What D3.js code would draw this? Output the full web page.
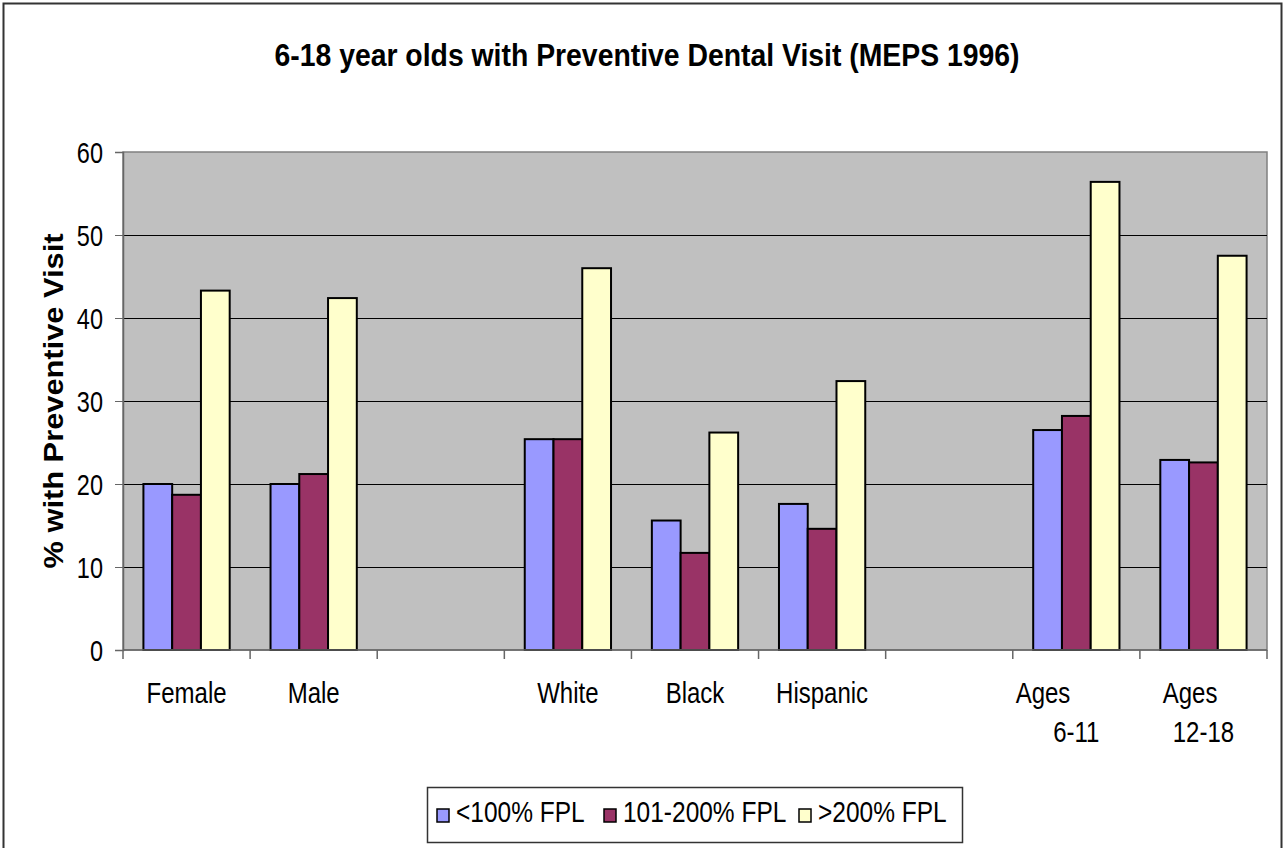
<!DOCTYPE html>
<html>
<head>
<meta charset="utf-8">
<script src="https://cdnjs.cloudflare.com/ajax/libs/d3/7.8.5/d3.min.js"></script>
<style>
  body { margin: 0; background: #fff; }
  svg { display: block; font-family: "Liberation Sans", Arial, sans-serif; }
</style>
</head>
<body>
<div id="chart"></div>
<script>
// categories (empty strings are the spacer slots in the original)
var categories = ["Female", "Male", "", "White", "Black", "Hispanic", "", "Ages\u00a0\u00a0\u00a0\u00a0\u00a0\u00a0\u00a0\u00a0\u00a0\u00a0 6-11", "Ages\u00a0\u00a0\u00a0\u00a0 12-18"];
var seriesNames = ["<100% FPL", "101-200% FPL", ">200% FPL"];
var below100 = [20.0, 20.0, null, 25.4, 15.6, 17.6, null, 26.5, 22.9];
var fpl101to200 = [18.7, 21.2, null, 25.4, 11.7, 14.6, null, 28.2, 22.6];
var above200 = [43.3, 42.4, null, 46.0, 26.2, 32.4, null, 56.4, 47.5];
var yTicks = [0, 10, 20, 30, 40, 50, 60];
var colors = ["#9999FF", "#993366", "#FFFFCC"];

var W = 1284, H = 848;
var margin = {left: 123, right: 17, top: 152, bottom: 198};
var series = [below100, fpl101to200, above200];
var stretch = 1.22; // the original text is drawn a bit taller than wide

var svg = d3.select("#chart").append("svg")
    .attr("width", W)
    .attr("height", H);

// chart area border
svg.append("rect")
    .attr("x", 3.5).attr("y", 3.5)
    .attr("width", W - 6).attr("height", H + 10)
    .attr("fill", "#fff")
    .attr("stroke", "#333")
    .attr("stroke-width", 2);

var x0 = d3.scaleBand()
    .domain(d3.range(categories.length))
    .range([margin.left, W - margin.right]);

var x1 = d3.scaleBand()
    .domain(d3.range(series.length))
    .range([0, x0.bandwidth()])
    .paddingOuter(0.71);

var y = d3.scaleLinear()
    .domain([0, 60])
    .range([H - margin.bottom, margin.top]);

// plot area
svg.append("rect")
    .attr("x", margin.left).attr("y", margin.top)
    .attr("width", W - margin.left - margin.right)
    .attr("height", H - margin.top - margin.bottom)
    .attr("fill", "#C0C0C0")
    .attr("stroke", "#808080")
    .attr("stroke-width", 1.5);

// gridlines
svg.append("g")
  .selectAll("line")
  .data(yTicks.slice(1, -1))
  .enter().append("line")
    .attr("x1", margin.left).attr("x2", W - margin.right)
    .attr("y1", function(d) { return Math.round(y(d)) + 0.5; })
    .attr("y2", function(d) { return Math.round(y(d)) + 0.5; })
    .attr("stroke", "#000")
    .attr("stroke-width", 1);

// bars
var groups = svg.append("g").selectAll("g")
    .data(categories)
    .enter().append("g")
    .attr("transform", function(d, i) { return "translate(" + x0(i) + ",0)"; });

groups.selectAll("rect")
    .data(function(d, i) {
      return series.map(function(s, k) { return {k: k, v: s[i]}; })
                   .filter(function(e) { return e.v != null; });
    })
    .enter().append("rect")
    .attr("x", function(d) { return x1(d.k); })
    .attr("y", function(d) { return y(d.v); })
    .attr("width", x1.bandwidth())
    .attr("height", function(d) { return y(0) - y(d.v); })
    .attr("fill", function(d) { return colors[d.k]; })
    .attr("stroke", "#000")
    .attr("stroke-width", 2);

// y axis
var yAxis = svg.append("g")
    .attr("transform", "translate(" + margin.left + ",0)")
    .call(d3.axisLeft(y).tickValues(yTicks).tickSize(8).tickPadding(12));
yAxis.select(".domain").attr("stroke", "#666").attr("stroke-width", 1.5);
yAxis.selectAll(".tick line").attr("stroke", "#666");
yAxis.selectAll("text")
    .attr("x", 0)
    .attr("dy", "0.36em")
    .attr("transform", "translate(-20,0) scale(1," + stretch + ")")
    .attr("font-size", 23.5)
    .attr("fill", "#000")
    .attr("font-family", "Liberation Sans, Arial, sans-serif");

// x axis line and tick marks between categories
var bounds = d3.range(categories.length).map(function(i) { return x0(i); }).concat([W - margin.right]);
svg.append("line")
    .attr("x1", margin.left).attr("x2", W - margin.right)
    .attr("y1", y(0)).attr("y2", y(0))
    .attr("stroke", "#666").attr("stroke-width", 1.5);
svg.append("g").selectAll("line")
    .data(bounds)
    .enter().append("line")
    .attr("x1", function(d) { return d; }).attr("x2", function(d) { return d; })
    .attr("y1", y(0)).attr("y2", y(0) + 9)
    .attr("stroke", "#666").attr("stroke-width", 1.5);

// x labels (split into lines at the single regular space)
var xl = svg.append("g").selectAll("text")
    .data(categories)
    .enter().append("text")
    .attr("transform", function(d, i) {
      return "translate(" + (x0(i) + x0.bandwidth() / 2) + "," + (y(0) + 53) + ") scale(1," + stretch + ")";
    })
    .attr("text-anchor", "middle")
    .attr("font-size", 24)
    .attr("fill", "#000")
    .style("white-space", "pre");
xl.each(function(d) {
  var t = d3.select(this);
  d.split(" ").forEach(function(p, j) {
    t.append("tspan")
      .attr("x", 0)
      .attr("dy", j === 0 ? 0 : 39 / stretch)
      .text(p);
  });
});

// title
svg.append("text")
    .attr("transform", "translate(647,66) scale(1,1.15)")
    .attr("text-anchor", "middle")
    .attr("font-size", 27)
    .attr("font-weight", "bold")
    .attr("textLength", 745)
    .attr("lengthAdjust", "spacingAndGlyphs")
    .text("6-18 year olds with Preventive Dental Visit (MEPS 1996)");

// y axis title
svg.append("text")
    .attr("transform", "translate(63," + ((margin.top + y(0)) / 2) + ") rotate(-90)")
    .attr("text-anchor", "middle")
    .attr("font-size", 28)
    .attr("font-weight", "bold")
    .attr("textLength", 335)
    .attr("lengthAdjust", "spacingAndGlyphs")
    .text("% with Preventive Visit");

// legend
var legend = svg.append("g").attr("transform", "translate(427,787)");
legend.append("rect")
    .attr("x", 0.5).attr("y", 0.5)
    .attr("width", 535).attr("height", 55)
    .attr("fill", "#fff")
    .attr("stroke", "#333")
    .attr("stroke-width", 1.5);

var legX = [10, 177, 372];
var items = legend.selectAll("g.item")
    .data(seriesNames)
    .enter().append("g")
    .attr("class", "item")
    .attr("transform", function(d, i) { return "translate(" + legX[i] + ",0)"; });
items.append("rect")
    .attr("x", 0).attr("y", 22)
    .attr("width", 12).attr("height", 13)
    .attr("fill", function(d, i) { return colors[i]; })
    .attr("stroke", "#000")
    .attr("stroke-width", 1.5);
items.append("text")
    .attr("transform", "translate(19,35) scale(1," + stretch + ")")
    .attr("font-size", 24.5)
    .attr("fill", "#000")
    .text(function(d) { return d; });
</script>
</body>
</html>
